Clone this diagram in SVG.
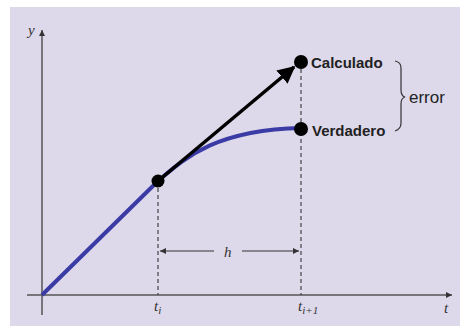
<svg xmlns="http://www.w3.org/2000/svg" width="460" height="326" viewBox="0 0 460 326">
<style>
.ax{stroke:#555;stroke-width:1.5;fill:none}
.dash{stroke:#444;stroke-width:1.2;stroke-dasharray:4,3;fill:none}
.it{font-family:"Liberation Serif",serif;font-style:italic;font-size:15px;fill:#333}
.lb{font-family:"Liberation Sans",Arial,sans-serif;font-weight:bold;font-size:15px;fill:#222}
.er{font-family:"Liberation Sans",Arial,sans-serif;font-size:17px;fill:#222}
</style>
<defs>
<marker id="ah" viewBox="0 0 10 10" refX="10" refY="5" markerWidth="8" markerHeight="6" orient="auto" markerUnits="userSpaceOnUse"><path d="M0,0L10,5L0,10z" fill="#333"/></marker>
<marker id="ab" viewBox="0 0 10 10" refX="9" refY="5" markerWidth="5" markerHeight="5" orient="auto"><path d="M0,0L10,5L0,10z" fill="#000"/></marker>
</defs>
<rect x="10" y="7" width="450" height="319" fill="#ddd8ea"/>
<g id="axes">
<line class="ax" x1="42" y1="315" x2="42" y2="30" marker-end="url(#ah)"/>
<line class="ax" x1="27" y1="295" x2="452" y2="295" marker-end="url(#ah)"/>
<text class="it" x="28" y="35">y</text>
<text class="it" x="444" y="313">t</text>
</g>
<g id="connectors">
<line class="dash" x1="158" y1="181" x2="158" y2="295"/>
<line class="dash" x1="301" y1="62" x2="301" y2="295"/>
<line stroke="#333" stroke-width="1.2" x1="214" y1="251" x2="160" y2="251" marker-end="url(#ah)"/>
<line stroke="#333" stroke-width="1.2" x1="242" y1="251" x2="299" y2="251" marker-end="url(#ah)"/>
</g>
<g id="curve">
<path d="M42,295 L158,181 C185,158 215,130 301,128" fill="none" stroke="#3b3ba6" stroke-width="4"/>
</g>
<g id="arrow">
<line stroke="#000" stroke-width="3.5" x1="158" y1="181" x2="294" y2="67" marker-end="url(#ab)"/>
</g>
<g id="ti"><circle cx="158" cy="181" r="6.5" fill="#000"/><text class="it" x="154" y="311">t<tspan font-size="11" dy="3">i</tspan></text></g>
<g id="ti1"><text class="it" x="298" y="311">t<tspan font-size="11" dy="3">i+1</tspan></text></g>
<g id="h"><text class="it" x="224" y="257">h</text></g>
<g id="calculado"><circle cx="301" cy="62" r="7" fill="#000"/><text class="lb" x="311" y="68">Calculado</text></g>
<g id="verdadero"><circle cx="301" cy="129" r="7" fill="#000"/><text class="lb" x="312" y="136">Verdadero</text></g>
<g id="error">
<path d="M395,61 Q401,62 401,68 L401,90 Q401,96 405,97 Q401,98 401,104 L401,123 Q401,129 395,131" fill="none" stroke="#333" stroke-width="1.2"/>
<text class="er" x="409" y="103">error</text>
</g>
</svg>
